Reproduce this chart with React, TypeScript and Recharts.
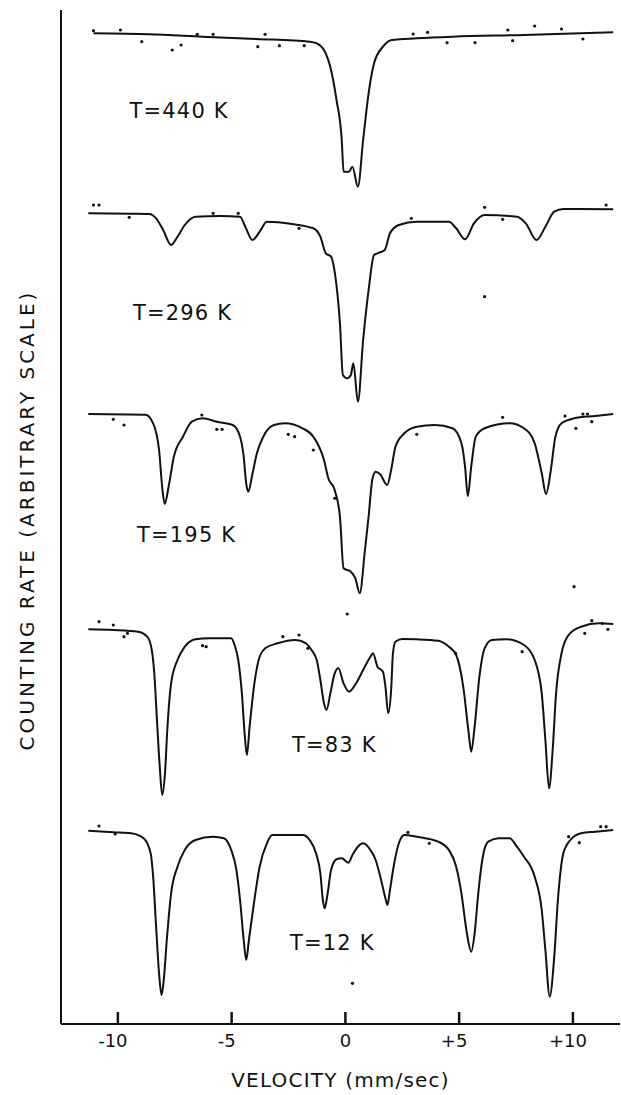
import React from 'react';
import { ComposedChart, Line, Scatter, XAxis, YAxis, ReferenceLine } from 'recharts';

// Velocity axis (mm/sec)
const velocityTicks = [-10, -5, 0, 5, 10];
const tickLabels = ['-10', '-5', '0', '+5', '+10'];
const TICK_LEN = 1.2; // tick mark length in counting-rate units (inward)

// Fitted curves: [velocity mm/s, counting rate (arbitrary scale)]
const fit440: number[][] = [
  [-11.07, 99.07], [-8.63, 98.97], [-6.28, 98.73], [-3.92, 98.5], [-1.57, 98.23], [-1.26, 98.07],
  [-0.94, 97.4], [-0.63, 95.4], [-0.39, 92.4], [-0.16, 88.4], [-0.08, 85.23], [0.16, 85.23],
  [0.31, 85.73], [0.55, 83.73], [0.78, 88.4], [1.02, 93.07], [1.26, 96.07], [1.65, 97.73],
  [2.04, 98.4], [3.14, 98.57], [4.71, 98.73], [7.85, 98.9], [11.77, 99.17],
];
const fit296: number[][] = [
  [-11.3, 81.07], [-9.42, 81.03], [-8.63, 81.0], [-8.32, 80.57], [-8.01, 79.4], [-7.66, 77.9],
  [-7.38, 78.73], [-7.06, 79.9], [-6.59, 80.73], [-5.49, 80.8], [-4.63, 80.73], [-4.4, 79.73],
  [-4.08, 78.4], [-3.77, 79.23], [-3.45, 80.23], [-2.35, 80.0], [-1.41, 79.57], [-1.1, 78.73],
  [-0.86, 77.07], [-0.63, 76.73], [-0.44, 74.73], [-0.24, 70.07], [-0.11, 64.9], [0.08, 64.57],
  [0.24, 64.9], [0.35, 66.07], [0.55, 62.23], [0.78, 68.4], [1.02, 73.4], [1.26, 76.9],
  [1.49, 77.13], [1.73, 77.4], [1.96, 79.07], [2.35, 79.9], [3.14, 80.23], [4.55, 80.23],
  [4.87, 79.57], [5.26, 78.47], [5.65, 80.07], [6.12, 80.9], [7.54, 80.73], [7.93, 80.07],
  [8.4, 78.4], [8.79, 79.73], [9.18, 81.23], [9.58, 81.5], [11.77, 81.47],
];
const fit195: number[][] = [
  [-11.3, 61.0], [-8.79, 60.93], [-8.45, 60.07], [-8.19, 57.4], [-8.04, 53.4], [-7.94, 52.0],
  [-7.77, 53.73], [-7.54, 56.73], [-7.14, 58.73], [-6.75, 60.23], [-6.28, 60.57], [-5.65, 60.23],
  [-4.95, 59.9], [-4.63, 58.73], [-4.47, 56.73], [-4.36, 54.07], [-4.27, 53.23], [-4.08, 55.07],
  [-3.89, 57.07], [-3.61, 58.73], [-3.14, 59.9], [-2.67, 60.07], [-1.88, 59.57], [-1.41, 58.73],
  [-0.94, 56.4], [-0.75, 54.57], [-0.47, 53.4], [-0.24, 50.73], [-0.08, 45.57], [0.24, 45.23],
  [0.44, 44.57], [0.63, 43.07], [0.86, 47.4], [1.02, 50.73], [1.18, 54.4], [1.33, 55.23],
  [1.52, 55.0], [1.84, 53.9], [2.01, 55.4], [2.2, 57.73], [2.59, 59.07], [3.14, 59.73],
  [3.92, 59.9], [4.71, 59.57], [5.1, 58.07], [5.26, 55.73], [5.38, 52.8], [5.53, 55.73],
  [5.73, 58.73], [6.12, 59.57], [7.22, 60.07], [7.85, 59.57], [8.32, 58.07], [8.63, 55.07],
  [8.82, 53.0], [9.03, 55.4], [9.23, 58.73], [9.5, 60.07], [10.05, 60.57], [10.99, 60.8], [11.77, 61.0],
];
const fit83: number[][] = [
  [-11.3, 39.47], [-10.2, 39.4], [-9.11, 39.23], [-8.71, 38.73], [-8.51, 37.4], [-8.4, 35.07],
  [-8.29, 30.73], [-8.16, 25.73], [-8.05, 22.9], [-7.93, 25.07], [-7.82, 29.73], [-7.66, 34.07],
  [-7.38, 36.4], [-7.06, 37.73], [-6.59, 38.47], [-5.97, 38.57], [-5.02, 38.57], [-4.87, 37.9],
  [-4.71, 36.4], [-4.55, 33.07], [-4.43, 29.07], [-4.33, 26.9], [-4.21, 29.73], [-4.0, 34.07],
  [-3.77, 36.73], [-3.53, 37.57], [-2.98, 38.07], [-2.2, 38.4], [-1.73, 38.07], [-1.49, 37.4],
  [-1.26, 36.4], [-1.1, 34.4], [-0.94, 32.07], [-0.83, 31.4], [-0.66, 33.07], [-0.47, 35.07],
  [-0.31, 35.57], [-0.08, 34.07], [0.16, 33.23], [0.47, 34.07], [0.78, 35.4], [1.1, 36.73],
  [1.21, 37.07], [1.41, 35.73], [1.65, 35.23], [1.76, 33.73], [1.88, 31.07], [2.01, 33.4],
  [2.09, 37.07], [2.2, 38.23], [2.51, 38.5], [3.14, 38.47], [4.08, 38.33], [4.55, 37.73],
  [4.87, 36.9], [5.18, 33.73], [5.42, 29.07], [5.53, 27.23], [5.68, 29.73], [5.89, 34.73],
  [6.12, 37.57], [6.44, 38.4], [7.06, 38.47], [7.85, 37.9], [8.32, 36.4], [8.63, 33.07],
  [8.79, 28.4], [8.95, 23.57], [9.11, 27.4], [9.26, 33.07], [9.5, 37.07], [9.81, 38.9],
  [10.36, 39.73], [11.15, 40.07], [11.77, 40.0],
];
const fit12: number[][] = [
  [-11.3, 19.33], [-10.2, 19.17], [-9.42, 19.07], [-8.87, 18.57], [-8.56, 17.07], [-8.45, 14.73],
  [-8.32, 9.73], [-8.19, 5.07], [-8.08, 2.9], [-7.97, 4.73], [-7.85, 8.4], [-7.66, 13.07],
  [-7.38, 15.73], [-7.06, 17.4], [-6.59, 18.4], [-5.81, 18.73], [-5.34, 18.57], [-5.02, 17.4],
  [-4.79, 15.4], [-4.63, 12.4], [-4.47, 8.4], [-4.36, 6.4], [-4.24, 8.4], [-4.0, 12.4],
  [-3.77, 15.73], [-3.45, 18.07], [-3.22, 18.9], [-1.88, 18.9], [-1.57, 18.4], [-1.29, 17.07],
  [-1.1, 15.07], [-0.99, 12.4], [-0.91, 11.57], [-0.78, 13.07], [-0.63, 15.4], [-0.39, 16.47],
  [-0.16, 16.57], [0.13, 16.13], [0.31, 16.9], [0.55, 17.73], [0.78, 18.07], [1.1, 17.4],
  [1.33, 16.4], [1.57, 14.4], [1.76, 12.57], [1.85, 11.9], [1.96, 13.4], [2.12, 15.73],
  [2.35, 18.07], [2.59, 18.9], [3.14, 18.73], [4.08, 18.23], [4.55, 17.4], [4.87, 15.73],
  [5.1, 13.07], [5.34, 9.07], [5.53, 7.23], [5.68, 9.07], [5.84, 13.07], [6.04, 16.73],
  [6.28, 18.23], [6.75, 18.57], [7.22, 18.57], [7.54, 17.73], [7.85, 16.73], [8.32, 14.73],
  [8.63, 11.4], [8.79, 7.4], [8.98, 2.73], [9.18, 6.73], [9.34, 12.4], [9.58, 17.07],
  [9.89, 18.4], [10.36, 19.07], [10.99, 19.23], [11.77, 19.4],
];

// Measured points scattered off the fitted curves
const pts440: number[][] = [
  [-11.07, 99.33], [-9.89, 99.4], [-8.95, 98.23], [-7.61, 97.4], [-7.22, 97.9], [-6.51, 98.97],
  [-5.81, 98.97], [-3.85, 97.73], [-3.53, 98.97], [-2.9, 97.83], [-1.81, 97.83], [2.98, 99.0],
  [3.61, 99.17], [4.47, 98.13], [5.7, 98.13], [7.14, 99.4], [7.35, 98.33], [8.32, 99.8],
  [9.5, 99.5], [10.44, 98.5],
];
const pts296: number[][] = [
  [-11.07, 81.9], [-10.83, 81.9], [-9.5, 80.67], [-5.81, 81.07], [-4.71, 81.07], [-2.04, 79.57],
  [2.9, 80.57], [6.12, 81.67], [6.91, 80.47], [6.12, 72.73], [11.46, 81.9],
];
const pts195: number[][] = [
  [-10.2, 60.47], [-9.73, 59.9], [-6.31, 60.9], [-5.65, 59.47], [-5.42, 59.47], [-2.51, 58.97],
  [-2.23, 58.73], [-1.41, 57.4], [-0.47, 52.57], [3.14, 58.97], [6.91, 60.67], [9.65, 60.8],
  [10.13, 59.57], [10.44, 61.0], [10.64, 61.0], [10.83, 60.23], [10.05, 43.73],
];
const pts83: number[][] = [
  [-10.83, 40.23], [-10.2, 39.9], [-9.73, 38.73], [-9.58, 39.07], [-6.28, 37.83], [-6.12, 37.73],
  [-2.75, 38.73], [-2.04, 38.9], [-1.65, 37.57], [0.08, 41.0], [4.84, 37.07], [7.77, 37.23],
  [10.52, 39.07], [10.83, 40.33], [11.3, 40.07], [11.54, 39.47],
];
const pts12: number[][] = [
  [-10.83, 19.8], [-10.12, 19.0], [2.75, 19.17], [3.69, 18.07], [9.81, 18.73], [10.28, 18.13],
  [11.22, 19.73], [11.46, 19.73], [0.31, 4.07],
];

// Temperature labels: [velocity, rate] anchor of label start
const tempLabels = ['T=440 K', 'T=296 K', 'T=195 K', 'T=83 K', 'T=12 K'];
const tempLabelPos: number[][] = [
  [-9.49, 90.6], [-9.34, 70.4], [-9.16, 48.2], [-2.35, 27.2], [-2.44, 7.4],
];

const toObj = (arr: number[][]) => arr.map(([v, r]) => ({ v, r }));
const curves = [fit440, fit296, fit195, fit83, fit12];
const pointSets = [pts440, pts296, pts195, pts83, pts12];
const labelData = tempLabels.map((text, i) => ({ v: tempLabelPos[i][0], r: tempLabelPos[i][1], text }));

const INK = '#111';
const FONT = '"DejaVu Sans", sans-serif';

const VelocityTick = (props: any) => {
  const { x, y, payload } = props;
  const idx = velocityTicks.indexOf(payload.value);
  const label = idx >= 0 ? tickLabels[idx] : String(payload.value);
  const shift = payload.value !== 0 ? -5 : 0;
  return (
    <text x={x + shift} y={y + 23} textAnchor="middle" fontFamily={FONT} fontSize={18} fill={INK}>
      {label}
    </text>
  );
};

const XLabel = (props: any) => {
  const vb = props.viewBox || {};
  const cx = vb.x + vb.width / 2;
  return (
    <text x={cx} y={vb.y + 63} textAnchor="middle" fontFamily={FONT} fontSize={20} letterSpacing={1.2} fill={INK}>
      VELOCITY (mm/sec)
    </text>
  );
};

const YLabel = (props: any) => {
  const vb = props.viewBox || {};
  const cx = 27;
  const cy = vb.y + vb.height / 2 + 3;
  return (
    <text
      x={cx}
      y={cy}
      transform={`rotate(-90 ${cx} ${cy})`}
      textAnchor="middle"
      dominantBaseline="central"
      fontFamily={FONT}
      fontSize={20}
      letterSpacing={3}
      fill={INK}
    >
      COUNTING RATE (ARBITRARY SCALE)
    </text>
  );
};

const Dot = (props: any) => <circle cx={props.cx} cy={props.cy} r={1.6} fill={INK} />;

const TempText = (props: any) => (
  <text x={props.cx} y={props.cy} fontFamily={FONT} fontSize={21} letterSpacing={1.2} fill={INK}>
    {props.payload.text}
  </text>
);

export default function App() {
  return (
    <div style={{ position: 'absolute', left: 0, top: 0, background: '#fff' }}>
      <ComposedChart width={621} height={1095} margin={{ top: 10, right: 1, bottom: 0, left: 0 }}>
        <XAxis
          type="number"
          dataKey="v"
          domain={[-12.5, 12.07]}
          ticks={velocityTicks}
          tickSize={0}
          tickMargin={0}
          tickLine={false}
          tick={<VelocityTick />}
          axisLine={{ stroke: INK, strokeWidth: 2 }}
          height={71}
          allowDataOverflow
          label={<XLabel />}
        />
        <YAxis
          type="number"
          domain={[0, 101.4]}
          width={61}
          tick={false}
          tickLine={false}
          axisLine={{ stroke: INK, strokeWidth: 2 }}
          allowDataOverflow
          label={<YLabel />}
        />
        {velocityTicks.map((t) => (
          <ReferenceLine
            key={'t' + t}
            segment={[{ x: t, y: 0 }, { x: t, y: TICK_LEN }]}
            stroke={INK}
            strokeWidth={2.5}
            ifOverflow="visible"
          />
        ))}
        {curves.map((c, i) => (
          <Line
            key={'c' + i}
            data={toObj(c)}
            dataKey="r"
            type="monotone"
            stroke={INK}
            strokeWidth={2}
            dot={false}
            activeDot={false}
            isAnimationActive={false}
          />
        ))}
        {pointSets.map((p, i) => (
          <Scatter key={'p' + i} data={toObj(p)} dataKey="r" shape={<Dot />} isAnimationActive={false} />
        ))}
        <Scatter data={labelData} dataKey="r" shape={<TempText />} isAnimationActive={false} />
      </ComposedChart>
    </div>
  );
}
